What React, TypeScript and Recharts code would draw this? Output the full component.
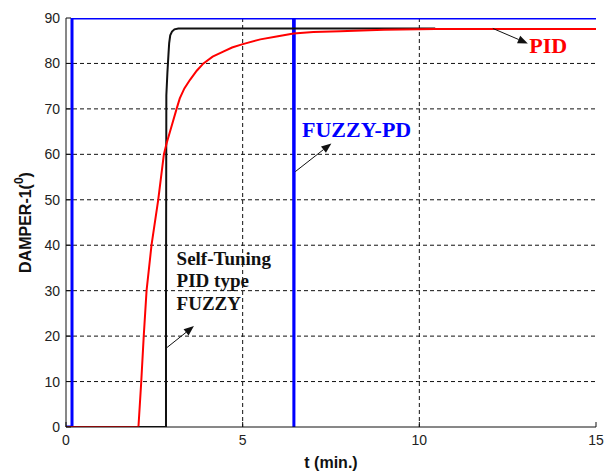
import React from 'react';
import { LineChart, Line, XAxis, YAxis, CartesianGrid, ReferenceLine, ReferenceDot } from 'recharts';

// ---- data (t in minutes, damper angle in degrees) ----
const X_TICKS = [0, 5, 10, 15];
const Y_TICKS = [0, 10, 20, 30, 40, 50, 60, 70, 80, 90];
const GRID_X = [5, 10];
const GRID_Y = [10, 20, 30, 40, 50, 60, 70, 80];

const fuzzyPdT = [0, 0.17, 0.17, 6.44, 6.45, 6.46, 15];
const fuzzyPdV = [0, 0, 90, 90, 0, 90, 90];

const stFuzzyT = [0, 2.83, 2.83, 2.84, 2.87, 2.9, 2.92, 2.95, 3.0, 3.07, 3.18, 10.45];
const stFuzzyV = [0, 0, 27, 73, 78, 82, 84.5, 86.2, 87.0, 87.5, 87.7, 87.7];

const pidT = [0, 2.05, 2.13, 2.2, 2.28, 2.42, 2.61, 2.77, 2.85, 3.0, 3.13, 3.22, 3.35, 3.51, 3.7, 3.89, 4.15, 4.45, 4.7, 4.98, 5.5, 6.0, 6.44, 7.0, 7.76, 9.0, 10.45, 15];
const pidV = [0, 0, 10, 20, 30, 40, 50, 60, 62.5, 66.5, 70, 72.3, 74.5, 76.4, 78.4, 80, 81.5, 82.6, 83.5, 84.2, 85.3, 86.0, 86.6, 86.9, 87.1, 87.4, 87.6, 87.6];

const toRows = (t: number[], v: number[]) => t.map((x, i) => ({ t: x, v: v[i] }));
const fuzzyPdData = toRows(fuzzyPdT, fuzzyPdV);
const stFuzzyData = toRows(stFuzzyT, stFuzzyV);
const pidData = toRows(pidT, pidV);

// annotation anchors in data coordinates
const arrows = [
  { from: { t: 12.08, v: 87.7 }, to: { t: 13.07, v: 84.4 } },
  { from: { t: 6.49, v: 56.2 }, to: { t: 7.51, v: 62.4 } },
  { from: { t: 2.86, v: 17.5 }, to: { t: 3.62, v: 22.2 } },
];
const labels = [
  { t: 13.11, v: 82.2, lines: ['PID'], color: '#ff0000', size: 22 },
  { t: 6.68, v: 63.9, lines: ['FUZZY-PD'], color: '#0000ff', size: 22 },
  { t: 3.13, v: 35.7, lines: ['Self-Tuning', 'PID type', 'FUZZY'], color: '#111111', size: 19 },
];

const ArrowShape = (p: any) => {
  const { x1, y1, x2, y2 } = p;
  const dx = x2 - x1;
  const dy = y2 - y1;
  const len = Math.sqrt(dx * dx + dy * dy) || 1;
  const ux = dx / len;
  const uy = dy / len;
  const hl = 10;
  const hw = 4;
  const bx = x2 - ux * hl;
  const by = y2 - uy * hl;
  const pts = `${x2},${y2} ${bx - uy * hw},${by + ux * hw} ${bx + uy * hw},${by - ux * hw}`;
  return (
    <g>
      <line x1={x1} y1={y1} x2={bx} y2={by} stroke="#111" strokeWidth={1} />
      <polygon points={pts} fill="#111" />
    </g>
  );
};

const makeLabelShape = (lines: string[], color: string, size: number) => (p: any) => (
  <text
    x={p.cx}
    y={p.cy}
    fill={color}
    fontFamily="'Liberation Serif', 'Times New Roman', serif"
    fontWeight="bold"
    fontSize={size}
  >
    {lines.map((s, i) => (
      <tspan key={i} x={p.cx} dy={i === 0 ? 0 : size * 1.18}>
        {s}
      </tspan>
    ))}
  </text>
);

const YTitle = (props: any) => {
  const vb = props.viewBox || { x: 0, y: 0, width: 0, height: 0 };
  const cx = vb.x + 25;
  const cy = vb.y + vb.height / 2;
  return (
    <text
      x={cx}
      y={cy}
      transform={`rotate(-90 ${cx} ${cy})`}
      textAnchor="middle"
      dominantBaseline="central"
      fontFamily="'Liberation Sans', Arial, sans-serif"
      fontWeight="bold"
      fontSize={16}
      fill="#111"
    >
      DAMPER-1(<tspan dy={-6} fontSize={12}>0</tspan>
      <tspan dy={6}>)</tspan>
    </text>
  );
};

const XTitle = (props: any) => {
  const vb = props.viewBox || { x: 0, y: 0, width: 0, height: 0 };
  return (
    <text
      x={vb.x + vb.width / 2}
      y={vb.y + 35}
      textAnchor="middle"
      dominantBaseline="central"
      fontFamily="'Liberation Sans', Arial, sans-serif"
      fontWeight="bold"
      fontSize={16}
      fill="#111"
    >
      t (min.)
    </text>
  );
};

const emptyTick = () => <g />;
const tickStyle = { fontFamily: "'Liberation Sans', Arial, sans-serif", fontSize: 14, fill: '#222' };

export default function App() {
  return (
    <div style={{ position: 'absolute', left: 0, top: 0, background: '#fff' }}>
      <LineChart width={611} height={472} margin={{ top: 18, right: 15, left: 0, bottom: 0 }}>
        <CartesianGrid
          xAxisId="b"
          yAxisId="l"
          stroke="#111"
          strokeDasharray="4 3"
          strokeWidth={1}
          horizontalValues={GRID_Y}
          verticalValues={GRID_X}
        />
        <XAxis
          xAxisId="b"
          dataKey="t"
          type="number"
          domain={[0, 15]}
          ticks={X_TICKS}
          height={45}
          axisLine={{ stroke: '#111' }}
          tickLine={{ stroke: '#111' }}
          tickSize={-5}
          tickMargin={13}
          tick={tickStyle}
          label={<XTitle />}
          allowDataOverflow
        />
        <XAxis
          xAxisId="top"
          orientation="top"
          dataKey="t"
          type="number"
          domain={[0, 15]}
          ticks={X_TICKS}
          height={0}
          axisLine={false}
          tickLine={{ stroke: '#111' }}
          mirror
          tickSize={5}
          tick={emptyTick}
        />
        <YAxis
          yAxisId="l"
          type="number"
          domain={[0, 90]}
          ticks={Y_TICKS}
          width={66}
          axisLine={{ stroke: '#111' }}
          tickLine={{ stroke: '#111' }}
          tickSize={-5}
          tickMargin={11}
          tick={tickStyle}
          label={<YTitle />}
          allowDataOverflow
        />
        <YAxis
          yAxisId="r"
          orientation="right"
          type="number"
          domain={[0, 90]}
          ticks={Y_TICKS}
          width={0}
          axisLine={{ stroke: '#111' }}
          tickLine={{ stroke: '#111' }}
          mirror
          tickSize={5}
          tick={emptyTick}
        />
        <Line
          xAxisId="b"
          yAxisId="l"
          data={fuzzyPdData}
          dataKey="v"
          type="linear"
          stroke="#0000ff"
          strokeWidth={3}
          dot={false}
          activeDot={false}
          isAnimationActive={false}
        />
        <Line
          xAxisId="b"
          yAxisId="l"
          data={stFuzzyData}
          dataKey="v"
          type="linear"
          stroke="#111111"
          strokeWidth={2}
          dot={false}
          activeDot={false}
          isAnimationActive={false}
        />
        <Line
          xAxisId="b"
          yAxisId="l"
          data={pidData}
          dataKey="v"
          type="linear"
          stroke="#ff0000"
          strokeWidth={2}
          dot={false}
          activeDot={false}
          isAnimationActive={false}
        />
        {arrows.map((a, i) => (
          <ReferenceLine
            key={`a${i}`}
            xAxisId="b"
            yAxisId="l"
            segment={[
              { x: a.from.t, y: a.from.v },
              { x: a.to.t, y: a.to.v },
            ]}
            shape={ArrowShape}
          />
        ))}
        {labels.map((l, i) => (
          <ReferenceDot
            key={`l${i}`}
            xAxisId="b"
            yAxisId="l"
            x={l.t}
            y={l.v}
            r={0}
            shape={makeLabelShape(l.lines, l.color, l.size)}
          />
        ))}
      </LineChart>
    </div>
  );
}
